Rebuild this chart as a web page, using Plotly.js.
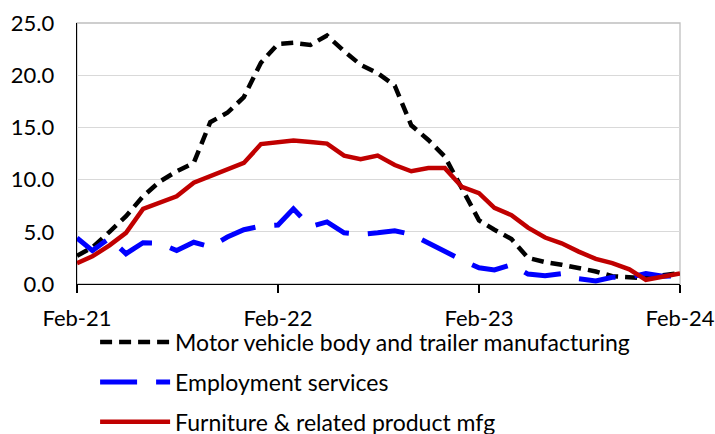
<!DOCTYPE html>
<html>
<head>
<meta charset="utf-8">
<script src="https://cdn.plot.ly/plotly-3.0.1.min.js"></script>
<style>
  html, body { margin: 0; padding: 0; background: #ffffff; }
  #chart { width: 715px; height: 434px; }
</style>
</head>
<body>
<div id="chart"></div>
<script>
// Months (first of each month), Feb-2021 .. Feb-2024
const months = [
  '2021-02-01','2021-03-01','2021-04-01','2021-05-01','2021-06-01','2021-07-01',
  '2021-08-01','2021-09-01','2021-10-01','2021-11-01','2021-12-01','2022-01-01',
  '2022-02-01','2022-03-01','2022-04-01','2022-05-01','2022-06-01','2022-07-01',
  '2022-08-01','2022-09-01','2022-10-01','2022-11-01','2022-12-01','2023-01-01',
  '2023-02-01','2023-03-01','2023-04-01','2023-05-01','2023-06-01','2023-07-01',
  '2023-08-01','2023-09-01','2023-10-01','2023-11-01','2023-12-01','2024-01-01',
  '2024-02-01'
];

const motorVehicle = [
  2.7, 3.5, 5.0, 6.5, 8.4, 9.8, 10.8, 11.6, 15.5, 16.4, 17.9, 21.2,
  23.0, 23.1, 22.9, 23.8, 22.3, 21.0, 20.2, 19.0, 15.2, 13.8, 12.2, 9.2,
  6.1, 5.2, 4.3, 2.5, 2.1, 1.85, 1.5, 1.2, 0.75, 0.7, 0.55, 0.85,
  1.05
];

const employment = [
  4.4, 3.2, 4.4, 2.9, 3.95, 3.9, 3.2, 4.0, 3.55, 4.5, 5.2, 5.55,
  5.65, 7.2, 5.5, 5.95, 4.9, 4.75, 4.9, 5.1, 4.75, 3.9, 3.05, 2.3,
  1.55, 1.35, 1.85, 0.95, 0.8, 1.0, 0.5, 0.3, 0.65, 0.65, 1.0, 0.75,
  0.8
];

const furniture = [
  2.0, 2.65, 3.7, 4.9, 7.2, 7.8, 8.4, 9.7, 10.3, 11.0, 11.6, 13.4,
  13.6, 13.75, 13.6, 13.45, 12.3, 11.95, 12.3, 11.4, 10.8, 11.1, 11.1, 9.3,
  8.7, 7.3, 6.6, 5.4, 4.45, 3.9, 3.1, 2.4, 2.0, 1.4, 0.4, 0.75,
  1.0
];

const seriesNames = [
  'Motor vehicle body and trailer manufacturing',
  'Employment services',
  'Furniture & related product mfg'
];

const tickVals = ['2021-02-01', '2022-02-01', '2023-02-01', '2024-02-01'];
const tickText = ['Feb-21', 'Feb-22', 'Feb-23', 'Feb-24'];
const yTicks = [0, 5, 10, 15, 20, 25];

const FONT = 'Lato, "Open Sans", sans-serif';

const traces = [
  {
    x: months, y: motorVehicle, name: seriesNames[0], type: 'scatter', mode: 'lines',
    line: { color: '#000000', width: 4.5, dash: '12px,7px' }, legendgroup: 'a'
  },
  {
    x: months, y: employment, name: seriesNames[1], type: 'scatter', mode: 'lines',
    line: { color: '#0000FF', width: 5, dash: '37px,19px' }, legendgroup: 'b'
  },
  {
    x: months, y: furniture, name: seriesNames[2], type: 'scatter', mode: 'lines',
    line: { color: '#C00000', width: 4.5 }, legendgroup: 'c'
  }
];

const layout = {
  width: 715, height: 434,
  margin: { l: 77, r: 35, t: 23, b: 150, autoexpand: false },
  paper_bgcolor: '#ffffff', plot_bgcolor: '#ffffff',
  font: { family: FONT, size: 22, color: '#000000' },
  showlegend: true,
  legend: {
    x: 0.03, xanchor: 'left', y: -0.14, yanchor: 'top',
    orientation: 'v', font: { family: FONT, size: 23, color: '#000000' },
    itemwidth: 70, tracegroupgap: 7, bgcolor: 'rgba(0,0,0,0)', borderwidth: 0
  },
  xaxis: {
    type: 'date', range: ['2021-02-01', '2024-02-01'],
    tickmode: 'array', tickvals: tickVals, ticktext: tickText,
    ticks: 'outside', ticklen: 8, tickwidth: 1.3, tickcolor: '#000000',
    showline: true, linecolor: '#000000', linewidth: 1.3,
    showgrid: false, zeroline: false,
    tickfont: { family: FONT, size: 22, color: '#000000' },
    ticklabelstandoff: 6
  },
  xaxis2: {
    type: 'date', overlaying: 'x', matches: 'x', anchor: 'y', side: 'bottom',
    tickmode: 'array', tickvals: tickVals, ticktext: tickText,
    ticks: 'inside', ticklen: 7, tickwidth: 1.3, tickcolor: '#000000',
    showticklabels: false, showgrid: false, zeroline: false, showline: false
  },
  yaxis: {
    range: [0, 25], tickmode: 'array', tickvals: yTicks, tickformat: '.1f',
    ticks: '', showline: true, linecolor: '#000000', linewidth: 1.3,
    showgrid: true, gridcolor: '#D9D9D9', gridwidth: 1.3, zeroline: false,
    tickfont: { family: FONT, size: 22, color: '#000000' },
    ticklabelstandoff: 17
  },
  shapes: [
    { type: 'rect', xref: 'paper', yref: 'paper', x0: 0, x1: 1, y0: 0, y1: 1,
      line: { color: '#BFBFBF', width: 1.3 }, layer: 'below' }
  ]
};

Plotly.newPlot('chart', traces, layout, { displayModeBar: false, staticPlot: true });
</script>
</body>
</html>
